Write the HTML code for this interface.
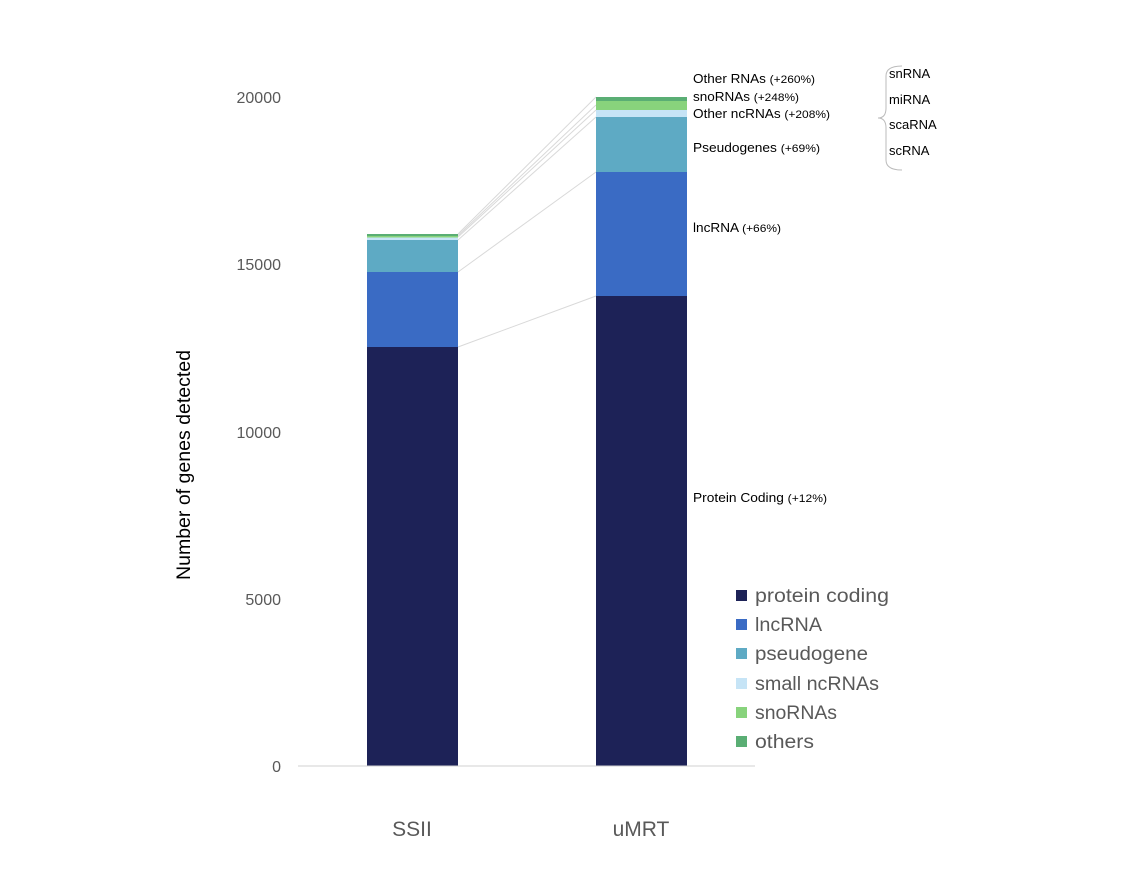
<!DOCTYPE html>
<html><head><meta charset="utf-8"><style>
html,body{margin:0;padding:0;background:#fff;}
svg{display:block;font-family:"Liberation Sans",sans-serif;}
</style></head><body>
<svg width="1128" height="876" viewBox="0 0 1128 876" xmlns="http://www.w3.org/2000/svg">
<rect width="1128" height="876" fill="#fff"/>
<g stroke="#d9d9d9" stroke-width="1">
<line x1="458" y1="347" x2="596" y2="296"/>
<line x1="458" y1="272" x2="596" y2="172"/>
<line x1="458" y1="240" x2="596" y2="117"/>
<line x1="458" y1="237" x2="596" y2="110"/>
<line x1="458" y1="235.5" x2="596" y2="105"/>
<line x1="458" y1="234" x2="596" y2="97"/>
</g>
<rect x="367" y="347" width="91" height="419" fill="#1d2257"/>
<rect x="367" y="272" width="91" height="75" fill="#3a6bc4"/>
<rect x="367" y="240" width="91" height="32" fill="#5eaac4"/>
<rect x="367" y="237.5" width="91" height="2.5" fill="#c6e4f6"/>
<rect x="367" y="236" width="91" height="1.5" fill="#88d37c"/>
<rect x="367" y="234" width="91" height="2" fill="#5aae74"/>
<rect x="596" y="296" width="91" height="470" fill="#1d2257"/>
<rect x="596" y="172" width="91" height="124" fill="#3a6bc4"/>
<rect x="596" y="117" width="91" height="55" fill="#5eaac4"/>
<rect x="596" y="110" width="91" height="7" fill="#c6e4f6"/>
<rect x="596" y="101" width="91" height="9" fill="#88d37c"/>
<rect x="596" y="97" width="91" height="4" fill="#5aae74"/>
<line x1="298" y1="766" x2="755" y2="766" stroke="#d0d0d0" stroke-width="1"/>
<g font-size="16" fill="#595959" text-anchor="end">
<text x="281" y="772">0</text>
<text x="281" y="605">5000</text>
<text x="281" y="438">10000</text>
<text x="281" y="270">15000</text>
<text x="281" y="103">20000</text>
</g>
<g font-size="21" fill="#595959" text-anchor="middle">
<text x="412" y="836">SSII</text>
<text x="641" y="836">uMRT</text>
</g>
<text transform="translate(190,465) rotate(-90)" font-size="19" fill="#000" text-anchor="middle" textLength="230" lengthAdjust="spacingAndGlyphs">Number of genes detected</text>
<g font-size="12.5" fill="#000">
<text x="693" y="83" textLength="122" lengthAdjust="spacingAndGlyphs">Other RNAs <tspan font-size="11">(+260%)</tspan></text>
<text x="693" y="101" textLength="106" lengthAdjust="spacingAndGlyphs">snoRNAs <tspan font-size="11">(+248%)</tspan></text>
<text x="693" y="118" textLength="137" lengthAdjust="spacingAndGlyphs">Other ncRNAs <tspan font-size="11">(+208%)</tspan></text>
<text x="693" y="152" textLength="127" lengthAdjust="spacingAndGlyphs">Pseudogenes <tspan font-size="11">(+69%)</tspan></text>
<text x="693" y="232" textLength="88" lengthAdjust="spacingAndGlyphs">lncRNA <tspan font-size="11">(+66%)</tspan></text>
<text x="693" y="502" textLength="134" lengthAdjust="spacingAndGlyphs">Protein Coding <tspan font-size="11">(+12%)</tspan></text>
</g>
<path d="M902,66 Q886,66 886,76 L886,108 Q886,118 878,118 Q886,118 886,128 L886,160 Q886,170 902,170" fill="none" stroke="#bbb" stroke-width="1"/>
<g font-size="13" fill="#000">
<text x="889" y="78">snRNA</text>
<text x="889" y="104">miRNA</text>
<text x="889" y="129">scaRNA</text>
<text x="889" y="155">scRNA</text>
</g>
<g font-size="19" fill="#595959">
<rect x="736" y="590" width="11" height="11" fill="#1d2257"/><text x="755" y="602" textLength="134" lengthAdjust="spacingAndGlyphs">protein coding</text>
<rect x="736" y="619" width="11" height="11" fill="#3a6bc4"/><text x="755" y="631" textLength="67" lengthAdjust="spacingAndGlyphs">lncRNA</text>
<rect x="736" y="648" width="11" height="11" fill="#5eaac4"/><text x="755" y="660" textLength="113" lengthAdjust="spacingAndGlyphs">pseudogene</text>
<rect x="736" y="678" width="11" height="11" fill="#c6e4f6"/><text x="755" y="690" textLength="124" lengthAdjust="spacingAndGlyphs">small ncRNAs</text>
<rect x="736" y="707" width="11" height="11" fill="#88d37c"/><text x="755" y="719" textLength="82" lengthAdjust="spacingAndGlyphs">snoRNAs</text>
<rect x="736" y="736" width="11" height="11" fill="#5aae74"/><text x="755" y="748" textLength="59" lengthAdjust="spacingAndGlyphs">others</text>
</g>
</svg>
</body></html>
